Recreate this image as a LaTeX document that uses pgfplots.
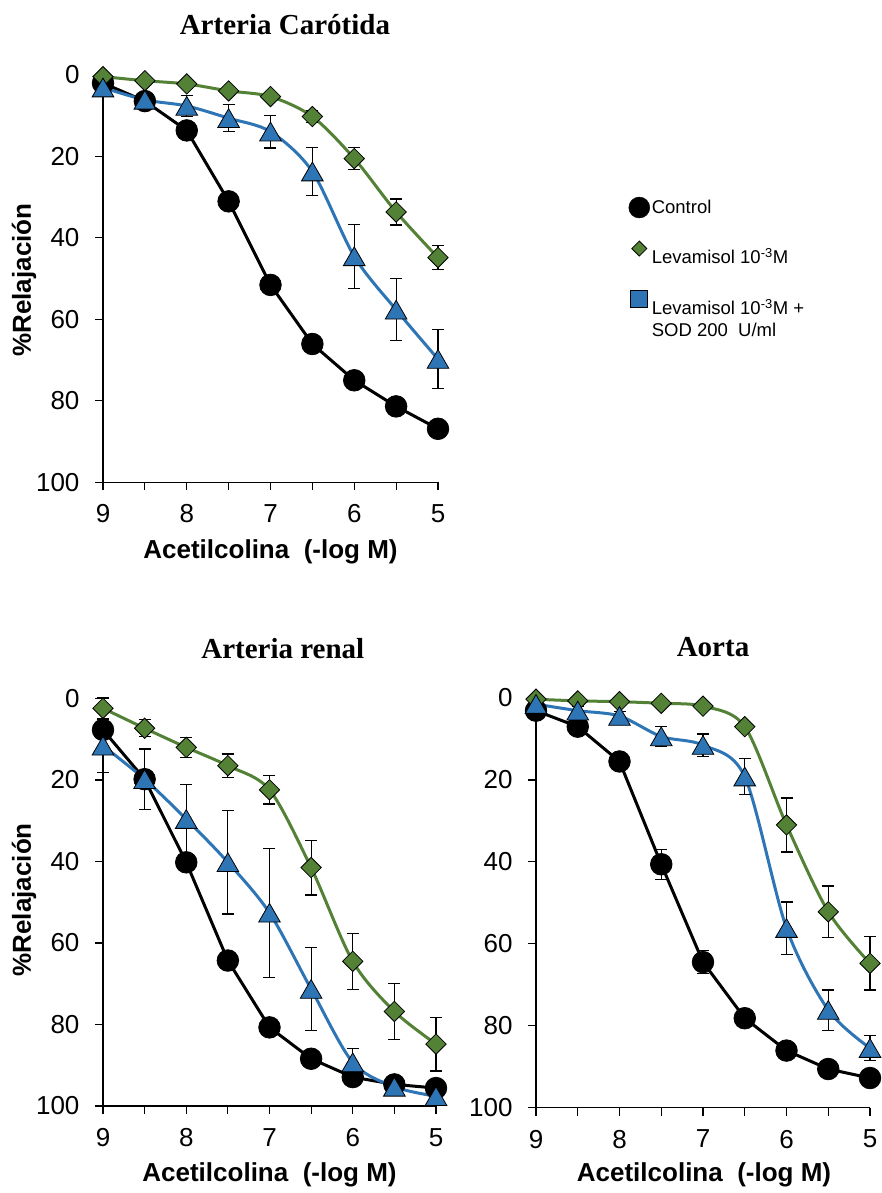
\documentclass[border=0pt]{standalone}
\usepackage{pgfplots}
\pgfplotsset{compat=1.18}
\usepackage{fontspec}
\setmainfont{Liberation Sans}
\newfontfamily\titlefont{Liberation Serif}
\definecolor{cgreen}{HTML}{538135}
\definecolor{cblue}{HTML}{2E75B6}
\pgfplotsset{
  panel/.style={
    scale only axis, clip=false,
    x dir=reverse, y dir=reverse,
    xmin=5, xmax=9, ymin=0, ymax=100,
    axis x line*=bottom, axis y line*=left,
    xtick={5,6,7,8,9}, minor xtick={5.5,6.5,7.5,8.5},
    ytick={0,20,40,60,80,100},
    tick align=outside,
    major tick length=8pt, minor tick length=8pt,
    every tick/.style={black, line width=1.2pt},
    every minor tick/.style={black, line width=1.2pt},
    axis line style={black, line width=1.2pt},
    tick label style={font=\fontsize{26}{26}\selectfont, /pgf/number format/assume math mode=true},
    yticklabel style={xshift=-12pt},
    xticklabel style={yshift=-11pt},
    label style={font=\bfseries\fontsize{26}{26}\selectfont},
    title style={font=\titlefont\bfseries\fontsize{29}{29}\selectfont, anchor=center},
  },
  ebars/.style={error bars/.cd, y dir=both, y explicit,
    error bar style={line width=1.2pt, black},
    error mark options={rotate=90, mark size=6pt, line width=1.2pt, black}, /pgfplots/.cd},
  ctrl/.style={black, line width=3pt, sharp plot, mark=*,
    mark options={solid, fill=black, draw=black, line width=0.8pt, scale=1}, mark size=10.8pt, ebars},
  leva/.style={cgreen, line width=3pt, smooth, mark=square*,
    mark options={solid, rotate=45, fill=cgreen, draw=black, line width=0.8pt}, mark size=7.2pt, ebars},
  sod/.style={cblue, line width=3pt, smooth, mark=triangle*,
    mark options={solid, yshift=-3pt, fill=cblue, draw=black, line width=0.8pt}, mark size=12.5pt, ebars},
}
\begin{document}
\begin{tikzpicture}[x=1pt,y=1pt]
\useasboundingbox (0pt,0pt) rectangle (881pt,1193pt);

% ---------------- Arteria Carotida ----------------
\begin{axis}[panel, at={(103pt,710.8pt)}, anchor=south west, width=335pt, height=407.6pt,
  title={Arteria Carótida}, title style={at={(axis description cs:0.543,1.109)}},
  xlabel={Acetilcolina\ \ (-log M)}, xlabel style={at={(axis description cs:0.5,-0.172)}, anchor=center},
  ylabel={\%Relajación}, ylabel style={at={(axis description cs:-0.236,0.496)}, anchor=center, rotate=0},
  legend style={draw=none, fill=none, font=\fontsize{18.5}{22}\selectfont,
    at={(axis description cs:1.560,0.705)}, anchor=north west,
    cells={anchor=west, align=left}, row sep=23pt},
]
\addlegendimage{only marks, mark=*, mark size=10.5pt, black}
\addlegendentry{Control}
\addlegendimage{only marks, mark=square*, mark size=5.3pt, mark options={rotate=45, fill=cgreen, draw=black, line width=0.8pt}}
\addlegendentry[yshift=-8pt]{Levamisol 10\textsuperscript{-3}M}
\addlegendimage{only marks, mark=square*, mark size=8.5pt, mark options={fill=cblue, draw=black, line width=0.8pt}}
\addlegendentry[yshift=-20pt]{Levamisol 10\textsuperscript{-3}M +\\SOD 200~~U/ml}

\addplot[forget plot, ctrl] table[x=x, y=y, y error=e] {
x y e
9 2.1 0.8
8.5 6.5 0.8
8 13.7 1.0
7.5 31.1 1.2
7 51.6 1.5
6.5 66.1 1.5
6 75.0 1.5
5.5 81.4 1.2
5 86.9 1.0
};
\addplot[forget plot, leva] table[x=x, y=y, y error=e] {
x y e
9 0.5 0.5
8.5 1.5 0.8
8 2.3 1.0
7.5 4.0 1.0
7 5.4 1.0
6.5 10.3 1.5
6 20.6 2.7
5.5 33.7 3.2
5 44.9 3.0
};
\addplot[forget plot, sod] table[x=x, y=y, y error=e] {
x y e
9 3.2 1.5
8.5 6.2 1.0
8 7.7 2.5
7.5 10.7 3.3
7 14.0 4.0
6.5 23.8 5.9
6 44.6 7.8
5.5 57.7 7.6
5 69.8 7.3
};
\end{axis}

% ---------------- Arteria renal ----------------
\begin{axis}[panel, at={(103pt,87pt)}, anchor=south west, width=333pt, height=407.5pt,
  title={Arteria renal}, title style={at={(axis description cs:0.54,1.109)}},
  xlabel={Acetilcolina\ \ (-log M)}, xlabel style={at={(axis description cs:0.5,-0.169)}, anchor=center},
  ylabel={\%Relajación}, ylabel style={at={(axis description cs:-0.237,0.506)}, anchor=center, rotate=0},
]
\addplot[ctrl] table[x=x, y=y, y error=e] {
x y e
9 7.7 1.0
8.5 19.8 1.5
8 40.2 2.0
7.5 64.3 2.0
7 80.7 1.5
6.5 88.4 1.5
6 92.9 1.2
5.5 94.7 1.0
5 95.6 1.0
};
\addplot[leva] table[x=x, y=y, y error=e] {
x y e
9 2.4 2.5
8.5 7.3 2.1
8 12.0 2.5
7.5 16.5 2.9
7 22.4 3.5
6.5 41.5 6.7
6 64.5 6.9
5.5 76.8 6.9
5 84.8 6.6
};
\addplot[sod] table[x=x, y=y, y error=e] {
x y e
9 11.6 6.5
8.5 19.8 7.4
8 29.6 8.5
7.5 40.2 12.7
7 52.6 15.8
6.5 71.3 10.1
6 89.3 3.5
5.5 95.3 1.0
5 97.6 1.0
};
\end{axis}

% ---------------- Aorta ----------------
\begin{axis}[panel, at={(536pt,85.5pt)}, anchor=south west, width=334pt, height=409.5pt,
  title={Aorta}, title style={at={(axis description cs:0.53,1.110)}},
  xlabel={Acetilcolina\ \ (-log M)}, xlabel style={at={(axis description cs:0.503,-0.165)}, anchor=center},
]
\addplot[ctrl] table[x=x, y=y, y error=e] {
x y e
9 3.1 1.0
8.5 7.0 1.0
8 15.5 1.0
7.5 40.6 3.7
7 64.5 2.8
6.5 78.2 1.5
6 86.1 1.5
5.5 90.6 1.5
5 92.8 1.5
};
\addplot[leva] table[x=x, y=y, y error=e] {
x y e
9 0.3 0.3
8.5 0.7 0.5
8 0.9 0.5
7.5 1.3 0.5
7 2.0 0.8
6.5 7.0 1.0
6 31.0 6.6
5.5 52.2 6.3
5 64.8 6.5
};
\addplot[sod] table[x=x, y=y, y error=e] {
x y e
9 1.5 0.8
8.5 3.1 1.0
8 4.4 1.2
7.5 9.4 2.4
7 11.5 2.7
6.5 19.2 4.4
6 56.2 6.4
5.5 76.2 4.9
5 85.5 3.0
};
\end{axis}
\end{tikzpicture}
\end{document}
